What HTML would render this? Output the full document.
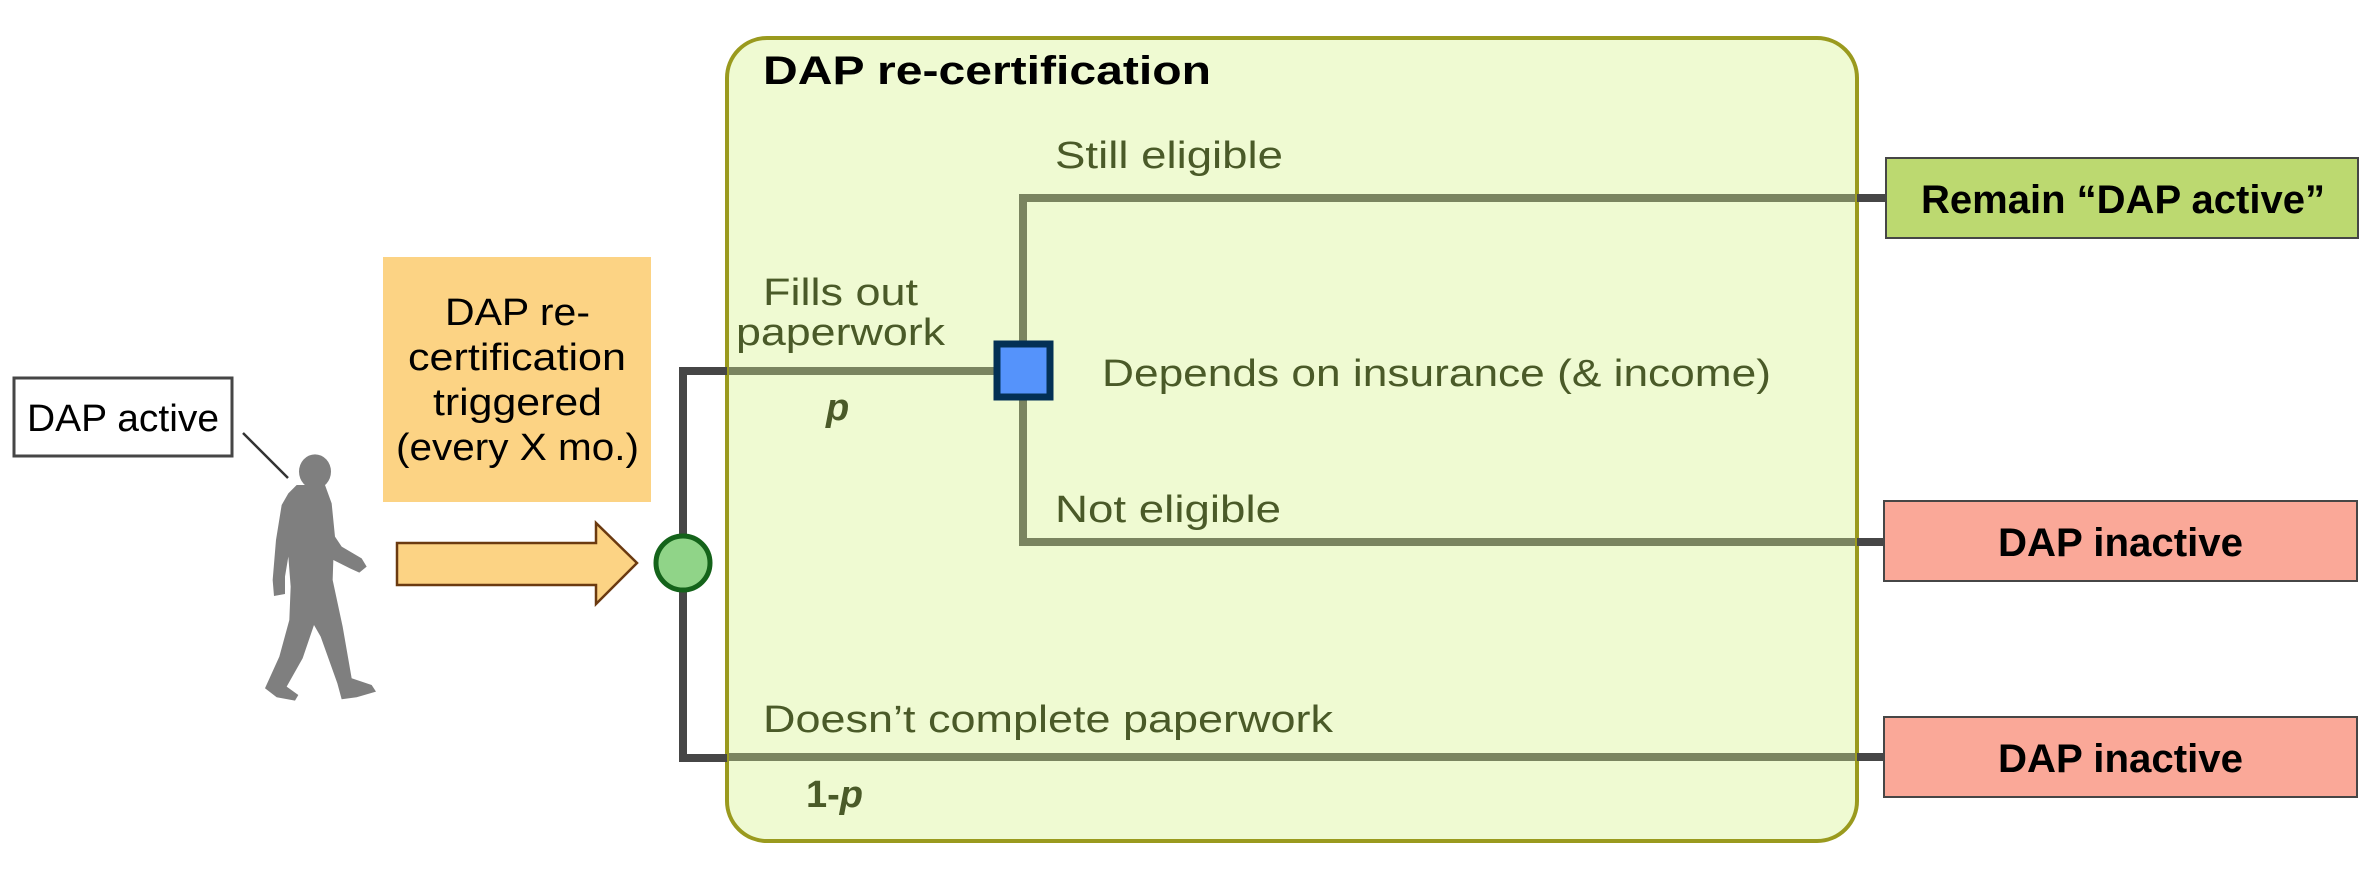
<!DOCTYPE html>
<html><head><meta charset="utf-8"><style>
html,body{margin:0;padding:0;background:#fff;width:2380px;height:880px;overflow:hidden}
svg{display:block}
text{font-family:"Liberation Sans",sans-serif}
.lbl{fill:#4a5a28;font-size:38px}
.blk{fill:#000;font-size:38px}
</style></head><body>
<svg width="2380" height="880" viewBox="0 0 2380 880" xmlns="http://www.w3.org/2000/svg">
<rect x="727" y="38" width="1130" height="803" rx="40" ry="40" fill="#effad2" stroke="#9a9a1e" stroke-width="4"/>
<text x="763" y="84" font-size="40" font-weight="bold" fill="#000" textLength="448" lengthAdjust="spacingAndGlyphs">DAP re-certification</text>

<polyline points="727,371 683,371 683,758 727,758" fill="none" stroke="#464646" stroke-width="8"/>
<line x1="1857" y1="198" x2="1886" y2="198" stroke="#464646" stroke-width="8"/>
<line x1="1857" y1="542" x2="1884" y2="542" stroke="#464646" stroke-width="8"/>
<line x1="1857" y1="757" x2="1884" y2="757" stroke="#464646" stroke-width="8"/>

<g stroke="#7a8460" stroke-width="8" fill="none">
<line x1="729" y1="371" x2="1000" y2="371"/>
<line x1="1023" y1="198" x2="1023" y2="542"/>
<line x1="1019" y1="198" x2="1855" y2="198"/>
<line x1="1019" y1="542" x2="1855" y2="542"/>
<line x1="729" y1="757" x2="1855" y2="757"/>
</g>
<rect x="997" y="344" width="53" height="53" fill="#5593fb" stroke="#033055" stroke-width="7"/>

<circle cx="683" cy="563" r="27" fill="#90d488" stroke="#14631a" stroke-width="5"/>

<text class="lbl" x="1055" y="168" textLength="228" lengthAdjust="spacingAndGlyphs">Still eligible</text>
<text class="lbl" x="763" y="305" textLength="155" lengthAdjust="spacingAndGlyphs">Fills out</text>
<text class="lbl" x="736" y="345" textLength="209" lengthAdjust="spacingAndGlyphs">paperwork</text>
<text x="826" y="420" font-size="38" font-weight="bold" font-style="italic" fill="#4a5a28">p</text>
<text class="lbl" x="1102" y="386" textLength="669" lengthAdjust="spacingAndGlyphs">Depends on insurance (&amp; income)</text>
<text class="lbl" x="1055" y="522" textLength="226" lengthAdjust="spacingAndGlyphs">Not eligible</text>
<text class="lbl" x="763" y="732" textLength="570" lengthAdjust="spacingAndGlyphs">Doesn’t complete paperwork</text>
<text x="806" y="807" font-size="38" font-weight="bold" fill="#4a5a28">1-<tspan font-style="italic">p</tspan></text>

<rect x="1886" y="158" width="472" height="80" fill="#bcd970" stroke="#464646" stroke-width="2"/>
<text x="1921" y="213" font-size="40" font-weight="bold" fill="#000" textLength="404" lengthAdjust="spacingAndGlyphs">Remain “DAP active”</text>
<rect x="1884" y="501" width="473" height="80" fill="#faa898" stroke="#464646" stroke-width="2"/>
<text x="1998" y="556" font-size="40" font-weight="bold" fill="#000" textLength="245" lengthAdjust="spacingAndGlyphs">DAP inactive</text>
<rect x="1884" y="717" width="473" height="80" fill="#faa898" stroke="#464646" stroke-width="2"/>
<text x="1998" y="772" font-size="40" font-weight="bold" fill="#000" textLength="245" lengthAdjust="spacingAndGlyphs">DAP inactive</text>

<rect x="14" y="378" width="218" height="78" fill="#fff" stroke="#464646" stroke-width="3"/>
<text class="blk" x="27" y="431" textLength="192" lengthAdjust="spacingAndGlyphs">DAP active</text>
<line x1="243" y1="433" x2="288" y2="478" stroke="#333" stroke-width="2.5"/>

<rect x="383" y="257" width="268" height="245" fill="#fcd384"/>
<text class="blk" x="445" y="325" textLength="145" lengthAdjust="spacingAndGlyphs">DAP re-</text>
<text class="blk" x="408" y="370" textLength="218" lengthAdjust="spacingAndGlyphs">certification</text>
<text class="blk" x="433" y="415" textLength="169" lengthAdjust="spacingAndGlyphs">triggered</text>
<text class="blk" x="396" y="460" textLength="243" lengthAdjust="spacingAndGlyphs">(every X mo.)</text>

<polygon points="397,543 596,543 596,523 637,563 596,604 596,585 397,585" fill="#fcd384" stroke="#6b3a10" stroke-width="2.5"/>

<g transform="translate(250,440) scale(0.3333)" fill="#7f7f7f">
<ellipse cx="195" cy="95" rx="48" ry="52"/>
<path d="M140,135 L225,135 L245,190 L255,290 L275,320 L335,355 L350,380 L328,398 L300,385 L250,360 L248,420 L278,560 L305,715 L365,735 L378,755 L320,772 L275,778 L262,730 L212,590 L192,555 L158,655 L110,740 L145,765 L135,782 L80,772 L45,745 L88,650 L118,540 L122,440 L115,350 L105,410 L105,462 L72,468 L68,420 L78,300 L95,195 L115,160 Z"/>
</g>
</svg>
</body></html>
